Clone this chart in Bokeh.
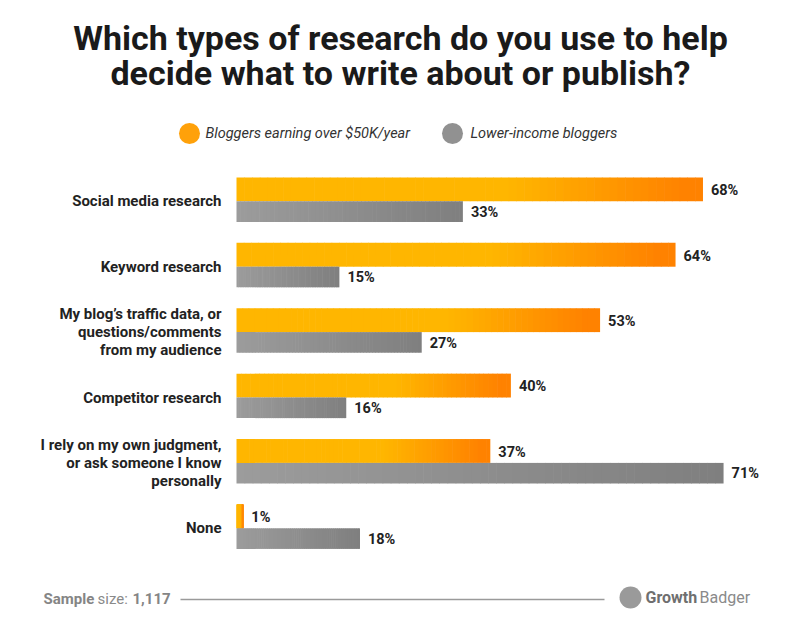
from bokeh.plotting import figure
from bokeh.models import Range1d, ColumnDataSource
from bokeh.core.properties import value
from bokeh.embed import file_html
from bokeh.resources import INLINE

# ---------------- data ----------------
categories = [
    "Social media research",
    "Keyword research",
    "My blog\u2019s traffic data, or\nquestions/comments\nfrom my audience",
    "Competitor research",
    "I rely on my own judgment,\nor ask someone I know\npersonally",
    "None",
]
high_income = [68, 64, 53, 40, 37, 1]
lower_income = [33, 15, 27, 16, 71, 18]
series_names = ["Bloggers earning over $50K/year", "Lower-income bloggers"]
title_lines = ["Which types of research do you use to help",
               "decide what to write about or publish?"]
sample_label = ["Sample", "size:", "1,117"]
brand = ["Growth", "Badger"]

# ---------------- style ----------------
YELLOW = "#FFB600"
ORANGE = "#FF8200"
GRAY_L = "#9c9c9c"
GRAY_D = "#7f7f7f"
FONT = value("Roboto")
N_SLICES = 60

BAR_X0_PX = 236.0
PX_PER_PCT = 6.86
ROW0_PX = 199.5
ROW_PITCH_PX = 65.4
W, H = 800, 630


def hex2rgb(c):
    c = c.lstrip("#")
    return tuple(int(c[i:i + 2], 16) for i in (0, 2, 4))


def lerp(c1, c2, t):
    a, b = hex2rgb(c1), hex2rgb(c2)
    return "#%02x%02x%02x" % tuple(round(a[i] + (b[i] - a[i]) * t) for i in range(3))


def orange_grad(t):
    if t < 0.58:
        return YELLOW
    return lerp(YELLOW, ORANGE, min(1.0, (t - 0.58) / 0.38))


def gray_grad(t):
    return lerp(GRAY_L, GRAY_D, t)


p = figure(width=W, height=H, x_range=Range1d(0, W), y_range=Range1d(H, 0),
           min_border=0, x_axis_location=None, y_axis_location=None,
           toolbar_location=None, output_backend="svg",
           background_fill_color="white", border_fill_color="white")
p.outline_line_color = None
p.xgrid.visible = False
p.ygrid.visible = False

# percentage scale for bar lengths, row index scale for categories
p.extra_x_ranges = {"pct": Range1d(-BAR_X0_PX / PX_PER_PCT, (W - BAR_X0_PX) / PX_PER_PCT)}
p.extra_y_ranges = {"cat": Range1d(start=(H - ROW0_PX) / ROW_PITCH_PX, end=-ROW0_PX / ROW_PITCH_PX)}

# ---------------- bars (gradient via slices) ----------------
ORANGE_TOP, MID, GRAY_BOT = -0.345, 0.02, 0.335
OVERLAP = 0.6 / PX_PER_PCT  # small overlap between slices to hide seams
left, right, top, bottom, color = [], [], [], [], []
for i in range(len(categories)):
    for vals, band, grad in ((high_income, (ORANGE_TOP, MID), orange_grad),
                             (lower_income, (MID, GRAY_BOT), gray_grad)):
        v = vals[i]
        for k in range(N_SLICES):
            l = v * k / N_SLICES
            r = min(v, v * (k + 1) / N_SLICES + OVERLAP)
            left.append(l)
            right.append(r)
            top.append(i + band[0])
            bottom.append(i + band[1])
            color.append(grad((k + 0.5) / N_SLICES))
bars = ColumnDataSource(dict(left=left, right=right, top=top, bottom=bottom, color=color))
p.quad(left="left", right="right", top="top", bottom="bottom", fill_color="color",
       line_color=None, source=bars, x_range_name="pct", y_range_name="cat")

# ---------------- category labels ----------------
idx = list(range(len(categories)))
p.text(x=[0] * len(categories), y=[i + 0.02 for i in idx], text=categories,
       x_offset=-15, text_align="right", text_baseline="middle",
       text_font=FONT, text_font_style="bold", text_font_size="15px",
       text_color="#222222", text_line_height=1.0,
       x_range_name="pct", y_range_name="cat")

# ---------------- value labels ----------------
p.text(x=high_income, y=[i + (ORANGE_TOP + MID) / 2 + 0.02 for i in idx],
       text=[f"{v}%" for v in high_income], x_offset=8,
       text_align="left", text_baseline="middle", text_font=FONT,
       text_font_style="bold", text_font_size="14.5px", text_color="#222222",
       x_range_name="pct", y_range_name="cat")
p.text(x=lower_income, y=[i + (MID + GRAY_BOT) / 2 + 0.01 for i in idx],
       text=[f"{v}%" for v in lower_income], x_offset=8,
       text_align="left", text_baseline="middle", text_font=FONT,
       text_font_style="bold", text_font_size="14.5px", text_color="#222222",
       x_range_name="pct", y_range_name="cat")

# ---------------- title ----------------
p.text(x=[W / 2, W / 2], y=[37, 72], text=title_lines, text_align="center",
       text_baseline="middle", text_font=FONT, text_font_style="bold",
       text_font_size="34px", text_color="#1a1a1a")

# ---------------- legend ----------------
p.scatter(x=[189, 452], y=[133, 133], size=21, marker="circle",
          fill_color=["#FFA10A", "#919191"], line_color=None)
p.text(x=[205, 470], y=[133, 133], text=series_names, text_align="left",
       text_baseline="middle", text_font=FONT, text_font_style="italic",
       text_font_size="14.5px", text_color="#333333")

# ---------------- footer ----------------
p.text(x=[43, 132], y=[598, 598], text=[sample_label[0], sample_label[2]],
       text_align="left", text_baseline="middle", text_font=FONT,
       text_font_style="bold", text_font_size="15px", text_color="#858585")
p.text(x=[97], y=[598], text=[sample_label[1]], text_align="left",
       text_baseline="middle", text_font=FONT, text_font_size="15px",
       text_color="#8a8a8a")
p.segment(x0=[180], y0=[599], x1=[604], y1=[599], line_color="#9a9a9a", line_width=1.3)
p.scatter(x=[630], y=[597], size=22, marker="circle", fill_color="#9a9a9a", line_color=None)
p.text(x=[645], y=[597], text=[brand[0]], text_align="left", text_baseline="middle",
       text_font=FONT, text_font_style="bold", text_font_size="16px", text_color="#6f6f6f")
p.text(x=[699], y=[597], text=[brand[1]], text_align="left", text_baseline="middle",
       text_font=FONT, text_font_size="16px", text_color="#8a8a8a")

open("out.html", "w").write(file_html(p, INLINE))
